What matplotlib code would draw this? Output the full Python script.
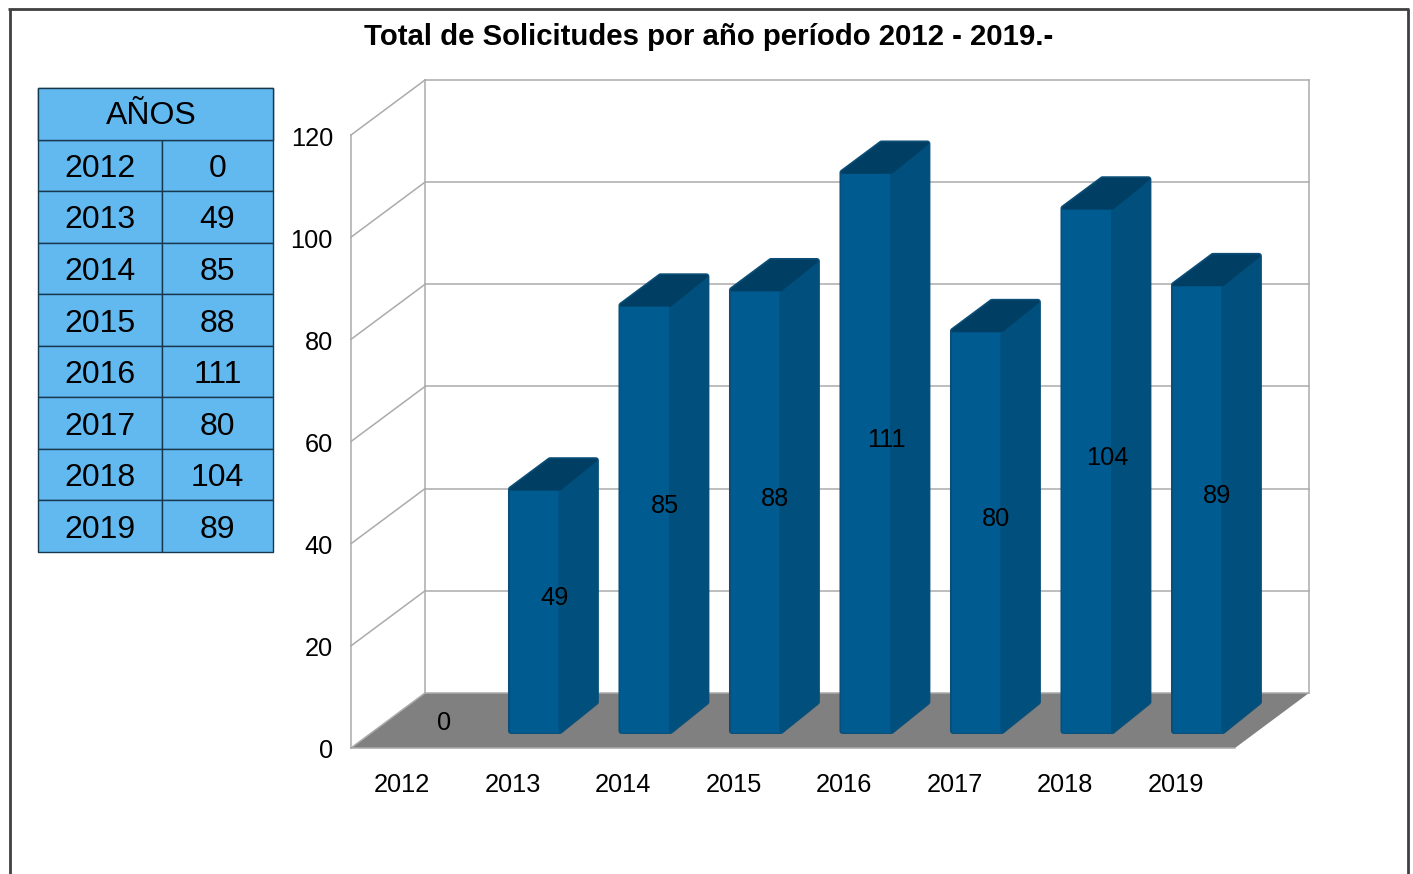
import numpy as np
import matplotlib
matplotlib.use('Agg')
import matplotlib.pyplot as plt
from matplotlib.lines import Line2D
from matplotlib.patches import Rectangle
from matplotlib.transforms import ScaledTranslation

plt.rcParams['font.family'] = ['Liberation Sans', 'DejaVu Sans']

years = ['2012', '2013', '2014', '2015', '2016', '2017', '2018', '2019']
solicitudes = [0, 49, 85, 88, 111, 80, 104, 89]
y_ticks = [0, 20, 40, 60, 80, 100, 120]
title = 'Total de Solicitudes por año período 2012 - 2019.-'
table_head = 'AÑOS'

W, H = 1413, 874
fig = plt.figure(figsize=(W / 100, H / 100), dpi=100, facecolor='white')

# outer frame, open at the bottom
for xs, ys in [([9.6, 9.6], [H, 9]), ([8.4, 1409], [9, 9]), ([1408, 1408], [9, H])]:
    fig.add_artist(Line2D([x / W for x in xs], [1 - y / H for y in ys],
                          color='#404040', lw=2.0, solid_capstyle='butt'))

fig.text(708.5 / W, 1 - 34 / H, title, fontsize=21.15, fontweight='bold',
         ha='center', va='center_baseline')

# front plane of the fake 3d box is the real axes
ax = fig.add_axes([351 / W, 1 - 748 / H, 884 / W, 613 / H])
ax.set_xlim(0, 8)
ax.set_ylim(0, 120)
ax.patch.set_visible(False)
for s in ax.spines.values():
    s.set_visible(False)

depth_x = 74 / 110.5
depth_y = 55 / 5.108
grid_c = '#ababab'
grid_w = 1.1


def shift(x, y, d):
    # d is depth, 0 = front plane, 1 = back wall
    return x + d * depth_x, y + d * depth_y


# floor
fx = [0, 8, 8 + depth_x, depth_x]
fy = [0, 0, depth_y, depth_y]
ax.fill(fx, fy, color='#808080', lw=0, clip_on=False, zorder=1)
ax.plot([0, 8], [0, 0], color=grid_c, lw=grid_w, clip_on=False, zorder=1)

# grid on back wall and left wall
for t in y_ticks:
    bx, by = shift(0, t, 1)
    ax.plot([0, bx], [t, by], color=grid_c, lw=grid_w, clip_on=False, zorder=2)
    ax.plot([bx, 8 + depth_x], [by, by], color=grid_c, lw=grid_w, clip_on=False, zorder=2)
ax.plot([0, 0], [0, 120], color=grid_c, lw=grid_w, clip_on=False, zorder=2)
ax.plot([depth_x, depth_x], [depth_y, 120 + depth_y], color=grid_c, lw=grid_w, clip_on=False, zorder=2)
ax.plot([8 + depth_x, 8 + depth_x], [depth_y, 120 + depth_y], color=grid_c, lw=grid_w, clip_on=False, zorder=2)

# bars, rounded rim first and the three faces on top
d0, d1 = 14 / 55, 43 / 55
bar_l, bar_w = 0.25, 0.47
inset_x, inset_y = 3 / 110.5, 3 / 5.108
top_drop = 2.5 / 5.108
rim_c = '#0b4f78'
label_off = ScaledTranslation(1 / 100, -1.5 / 100, fig.dpi_scale_trans)
for i, v in enumerate(solicitudes):
    if v > 0:
        x0, y0 = shift(i + bar_l + inset_x, inset_y, d0)
        xm = shift(i + bar_l + bar_w, 0, d0)[0]
        dx, dy = (d1 - d0) * depth_x, (d1 - d0) * depth_y
        xb = xm + dx - inset_x
        y_t = shift(0, v - top_drop - inset_y, d0)[1]
        ax.fill([x0, xm, xb, xb, x0 + dx, x0],
                [y0, y0, y0 + dy, y_t + dy, y_t + dy, y_t],
                facecolor=rim_c, edgecolor=rim_c, lw=4.3,
                joinstyle='round', clip_on=False, zorder=3)
        for px, py, c, z in [([x0, xm, xm, x0], [y0, y0, y_t, y_t], '#005b90', 4),
                             ([xm, xb, xb, xm], [y0, y0 + dy, y_t + dy, y_t], '#004f7d', 4.1),
                             ([x0, xm, xb, x0 + dx], [y_t, y_t, y_t + dy, y_t + dy], '#003f63', 4.2)]:
            ax.fill(px, py, facecolor=c, edgecolor=c, lw=2.0, joinstyle='round',
                    clip_on=False, zorder=z)
    lx, ly = shift(i + bar_l + bar_w / 2, v / 2, (d0 + d1) / 2)
    ax.text(lx, ly, str(v), fontsize=18.3, ha='center', va='center_baseline', color='black',
            clip_on=False, zorder=5, transform=ax.transData + label_off)

ax.set_xticks(np.arange(len(years)) + 0.464, years)
ax.set_yticks(y_ticks, [str(t) for t in y_ticks])
ax.tick_params(axis='both', length=0, labelsize=18.3)
ax.tick_params(axis='x', pad=18)
ax.tick_params(axis='y', pad=13)
ytick_off = ScaledTranslation(0, -1 / 100, fig.dpi_scale_trans)
for lab in ax.get_yticklabels():
    lab.set_transform(lab.get_transform() + ytick_off)

# table with the values
ax_t = fig.add_axes([38 / W, 1 - 552 / H, 235 / W, 464 / H])
ax_t.axis('off')
rows = [['', '']] + [[y, str(v)] for y, v in zip(years, solicitudes)]
tbl = ax_t.table(cellText=rows, colWidths=[124 / 235, 111 / 235], bbox=[0, 0, 1, 1],
                 cellLoc='center')
tbl.auto_set_font_size(False)
for (r, c), cell in tbl.get_celld().items():
    cell.set_facecolor('#62b9f0')
    cell.set_edgecolor('#17384f')
    cell.set_linewidth(1.0)
    cell.get_text().set_fontsize(23)
    cell.get_text().set_verticalalignment('center_baseline')
# header cell spans both columns
ax_t.add_patch(Rectangle((0, 8 / 9), 1, 1 / 9, transform=ax_t.transAxes, facecolor='#62b9f0',
                         edgecolor='#17384f', lw=1.0, zorder=11, clip_on=False))
ax_t.text(113.5 / 235, 1 - 25 / 464, table_head, fontsize=23, ha='center', va='center_baseline',
          transform=ax_t.transAxes, zorder=12)

fig.savefig('out.png', dpi=100)
